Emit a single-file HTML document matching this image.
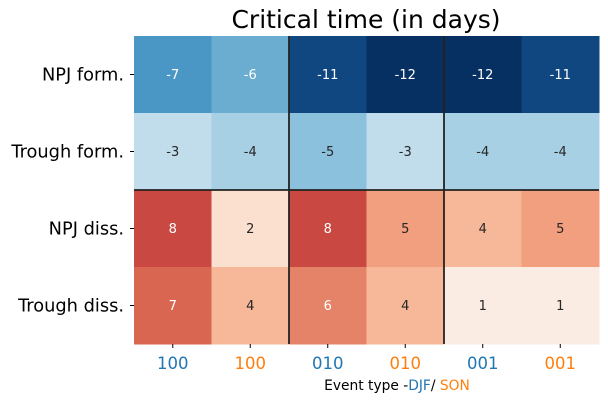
<!DOCTYPE html>
<html><head><meta charset="utf-8"><style>
html,body{margin:0;padding:0;background:#fff;}
svg text{font-family:"DejaVu Sans","Liberation Sans",sans-serif;}
</style></head><body>
<svg id="c" width="608" height="402" xmlns="http://www.w3.org/2000/svg">
<text x="366" y="28" font-size="25" text-anchor="middle" fill="#000">Critical time (in days)</text>
<g id="cells"></g>
<g id="lines"></g>
<g id="ticks"></g>
<text x="397" y="390" font-size="13.8" text-anchor="middle"><tspan fill="#000">Event type -</tspan><tspan fill="#1f77b4">DJF</tspan><tspan fill="#000">/ </tspan><tspan fill="#ff7f0e">SON</tspan></text>
</svg>
<script>
const rows = ["NPJ form.", "Trough form.", "NPJ diss.", "Trough diss."];
const cols = ["100", "100", "010", "010", "001", "001"];
const seasons = ["DJF", "SON", "DJF", "SON", "DJF", "SON"];
const values = [
  [-7, -6, -11, -12, -12, -11],
  [-3, -4, -5, -3, -4, -4],
  [8, 2, 8, 5, 4, 5],
  [7, 4, 6, 4, 1, 1]
];
const vmin = -12, vmax = 12;
const X0 = 134, X1 = 599, Y0 = 36, Y1 = 344;
const cw = (X1 - X0) / cols.length, ch = (Y1 - Y0) / rows.length;
const xPos = i => X0 + i * cw;
const yPos = j => Y0 + j * ch;
const stops = ["#053061","#2166ac","#4393c3","#92c5de","#d1e5f0","#f7f7f7","#fddbc7","#f4a582","#d6604d","#b2182b","#67001f"];
function hex(h){return [1,3,5].map(k=>parseInt(h.substr(k,2),16));}
function color(v){
  let t = Math.max(0, Math.min(1, (v - vmin) / (vmax - vmin))) * 10;
  let i = Math.min(9, Math.floor(t)), f = t - i;
  const a = hex(stops[i]), b = hex(stops[i+1]);
  const c = a.map((x,k)=>Math.round(x + (b[k]-x)*f));
  return {css:"rgb("+c.join(",")+")", lum:(0.299*c[0]+0.587*c[1]+0.114*c[2])};
}
const NS = "http://www.w3.org/2000/svg";
const cells = document.getElementById("cells");
values.forEach((row, j) => row.forEach((v, i) => {
  const col = color(v);
  const r = document.createElementNS(NS, "rect");
  r.setAttribute("x", xPos(i)); r.setAttribute("y", yPos(j));
  r.setAttribute("width", cw + 0.5); r.setAttribute("height", ch + 0.5);
  r.setAttribute("fill", col.css);
  
  
  cells.appendChild(r);
  const t = document.createElementNS(NS, "text");
  t.setAttribute("x", xPos(i) + cw / 2); t.setAttribute("y", yPos(j) + ch / 2 + 4.5);
  t.setAttribute("text-anchor", "middle"); t.setAttribute("font-size", "13");
  t.setAttribute("fill", col.lum < 170 ? "#fff" : "#262626");
  t.textContent = v;
  
  
  cells.appendChild(t);
}));
const lines = document.getElementById("lines");
[2, 4].forEach(i => {
  const l = document.createElementNS(NS, "line");
  l.setAttribute("x1", xPos(i)); l.setAttribute("x2", xPos(i));
  l.setAttribute("y1", Y0); l.setAttribute("y2", Y1);
  l.setAttribute("stroke", "#222"); l.setAttribute("stroke-width", "1.8");
  
  
  lines.appendChild(l);
});
{
  const l = document.createElementNS(NS, "line");
  l.setAttribute("x1", X0); l.setAttribute("x2", X1);
  l.setAttribute("y1", yPos(2)); l.setAttribute("y2", yPos(2));
  l.setAttribute("stroke", "#222"); l.setAttribute("stroke-width", "1.8");
  
  
  lines.appendChild(l);
}
const ticks = document.getElementById("ticks");
cols.forEach((c, i) => {
  const x = xPos(i) + cw / 2;
  const tk = document.createElementNS(NS, "line");
  tk.setAttribute("x1", x); tk.setAttribute("x2", x);
  tk.setAttribute("y1", Y1); tk.setAttribute("y2", Y1 + 4);
  tk.setAttribute("stroke", "#000");
  
  
  ticks.appendChild(tk);
  const t = document.createElementNS(NS, "text");
  t.setAttribute("x", x); t.setAttribute("y", Y1 + 25);
  t.setAttribute("text-anchor", "middle"); t.setAttribute("font-size", "16.5");
  t.setAttribute("fill", seasons[i] === "DJF" ? "#1f77b4" : "#ff7f0e");
  t.textContent = c;
  
  
  ticks.appendChild(t);
});
rows.forEach((r, j) => {
  const y = yPos(j) + ch / 2;
  const tk = document.createElementNS(NS, "line");
  tk.setAttribute("x1", X0 - 4); tk.setAttribute("x2", X0);
  tk.setAttribute("y1", y); tk.setAttribute("y2", y);
  tk.setAttribute("stroke", "#000");
  
  
  ticks.appendChild(tk);
  const t = document.createElementNS(NS, "text");
  t.setAttribute("x", X0 - 10); t.setAttribute("y", y + 6);
  t.setAttribute("text-anchor", "end"); t.setAttribute("font-size", "17.8");
  t.setAttribute("fill", "#000");
  t.textContent = r;
  
  
  ticks.appendChild(t);
});
</script>
</body></html>
